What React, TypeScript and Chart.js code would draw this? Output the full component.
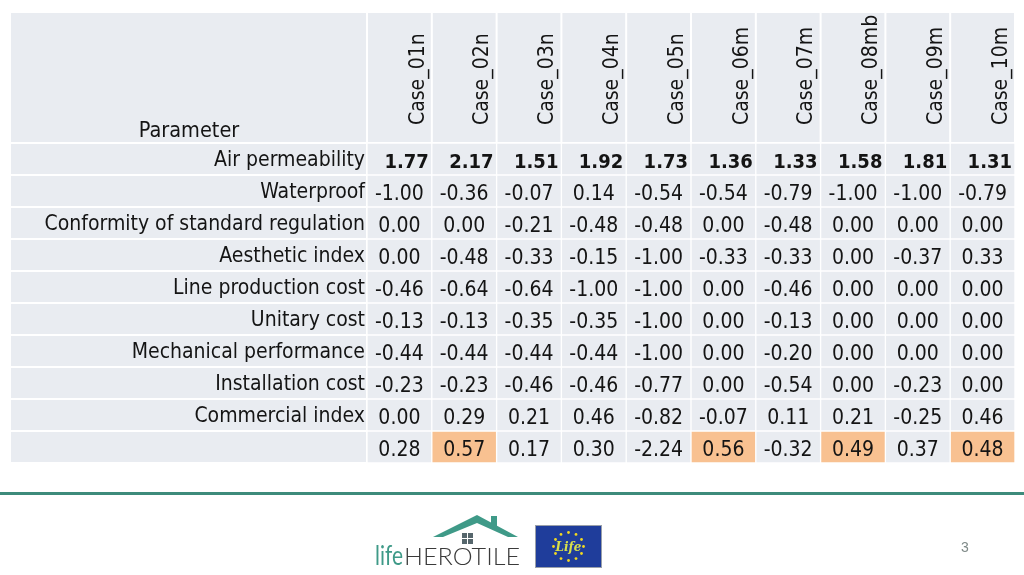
import React, { useEffect, useRef } from "react";
import { Chart, registerables } from "chart.js";

Chart.register(...registerables);

const cases = ["Case_01n", "Case_02n", "Case_03n", "Case_04n", "Case_05n", "Case_06m", "Case_07m", "Case_08mb", "Case_09m", "Case_10m"];
const rowLabels = [
  "Air permeability",
  "Waterproof",
  "Conformity of standard regulation",
  "Aesthetic index",
  "Line production cost",
  "Unitary cost",
  "Mechanical performance",
  "Installation cost",
  "Commercial index",
  "",
];
const airPermeability = [1.77, 2.17, 1.51, 1.92, 1.73, 1.36, 1.33, 1.58, 1.81, 1.31];
const waterproof = [-1.0, -0.36, -0.07, 0.14, -0.54, -0.54, -0.79, -1.0, -1.0, -0.79];
const conformity = [0.0, 0.0, -0.21, -0.48, -0.48, 0.0, -0.48, 0.0, 0.0, 0.0];
const aesthetic = [0.0, -0.48, -0.33, -0.15, -1.0, -0.33, -0.33, 0.0, -0.37, 0.33];
const lineProduction = [-0.46, -0.64, -0.64, -1.0, -1.0, 0.0, -0.46, 0.0, 0.0, 0.0];
const unitaryCost = [-0.13, -0.13, -0.35, -0.35, -1.0, 0.0, -0.13, 0.0, 0.0, 0.0];
const mechanical = [-0.44, -0.44, -0.44, -0.44, -1.0, 0.0, -0.2, 0.0, 0.0, 0.0];
const installation = [-0.23, -0.23, -0.46, -0.46, -0.77, 0.0, -0.54, 0.0, -0.23, 0.0];
const commercial = [0.0, 0.29, 0.21, 0.46, -0.82, -0.07, 0.11, 0.21, -0.25, 0.46];
const totalScore = [0.28, 0.57, 0.17, 0.3, -2.24, 0.56, -0.32, 0.49, 0.37, 0.48];
const highlighted = [false, true, false, false, false, true, false, true, false, true];

const rows = [airPermeability, waterproof, conformity, aesthetic, lineProduction, unitaryCost, mechanical, installation, commercial, totalScore];

const FONT = '"DejaVu Sans Condensed", "DejaVu Sans", sans-serif';
const CELL = "#e9ecf1";
const ORANGE = "#f8c191";
const TEXT = "#141414";
const TEAL = "#3d8b7b";

const tablePlugin = {
  id: "tableFrame",
  beforeDraw(chart: any) {
    const ctx = chart.ctx;
    const xs = chart.scales.x;
    const ys = chart.scales.y;
    const ca = chart.chartArea;
    const left = ys.left;
    const top = xs.top;
    ctx.save();
    ctx.fillStyle = "#fff";
    ctx.fillRect(0, 0, chart.width, chart.height);
    ctx.fillStyle = CELL;
    ctx.fillRect(left, top, ca.right - left, ca.top - top);
    ctx.fillRect(left, ca.top, ca.left - left, ca.bottom - ca.top);
    ctx.fillStyle = "#fff";
    for (let i = 0; i <= cases.length; i++) {
      const x = xs.getPixelForValue(i - 0.5);
      ctx.fillRect(x - 1, top, 2, ca.top - top);
    }
    for (let i = 0; i <= rowLabels.length; i++) {
      const y = ys.getPixelForValue(i - 0.5);
      ctx.fillRect(left, y - 1, ca.left - left, 2);
    }
    ctx.fillRect(left, ca.top - 1, ca.right - left, 2);
    ctx.fillRect(ca.left - 1, top, 2, ca.bottom - top);
    ctx.fillStyle = TEXT;
    ctx.font = `21.5px ${FONT}`;
    ctx.textAlign = "center";
    ctx.textBaseline = "alphabetic";
    ctx.fillText("Parameter", (left + ca.left) / 2, ca.top - 6);
    ctx.restore();
  },
  afterDatasetsDraw(chart: any) {
    const ctx = chart.ctx;
    ctx.save();
    ctx.fillStyle = TEXT;
    ctx.textBaseline = "alphabetic";
    rows.forEach((vals, r) => {
      const meta = chart.getDatasetMeta(r);
      meta.data.forEach((el: any, i: number) => {
        const cy = (el.y + el.base) / 2;
        const txt = vals[i].toFixed(2);
        if (r === 0) {
          ctx.font = `bold 20px ${FONT}`;
          ctx.textAlign = "right";
          ctx.fillText(txt, el.x + el.width / 2 - 3, cy + 9);
        } else {
          ctx.font = `21px ${FONT}`;
          ctx.textAlign = "center";
          ctx.fillText(txt, el.x, cy + 9);
        }
      });
    });
    ctx.restore();
  },
  afterDraw(chart: any) {
    const ctx = chart.ctx;
    ctx.save();
    // footer rule
    ctx.fillStyle = TEAL;
    ctx.fillRect(0, 492, chart.width, 3);
    // house roof
    ctx.fillStyle = "#3f9a88";
    ctx.beginPath();
    ctx.moveTo(433, 537);
    ctx.lineTo(477, 515);
    ctx.lineTo(518, 537);
    ctx.lineTo(508, 537);
    ctx.lineTo(477, 523);
    ctx.lineTo(443, 537);
    ctx.closePath();
    ctx.fill();
    ctx.fillRect(491, 516, 6, 10);
    // window
    ctx.fillStyle = "#56666c";
    ctx.fillRect(462, 533, 5, 5);
    ctx.fillRect(468, 533, 5, 5);
    ctx.fillRect(462, 539, 5, 5);
    ctx.fillRect(468, 539, 5, 5);
    // logo text
    ctx.textBaseline = "alphabetic";
    ctx.textAlign = "left";
    ctx.font = `26px Lato`;
    const lw = ctx.measureText("life").width;
    ctx.save();
    ctx.translate(375, 565);
    ctx.scale(28 / lw, 1);
    ctx.fillStyle = "#3f9a88";
    ctx.fillText("life", 0, 0);
    ctx.restore();
    ctx.font = `300 24px Lato`;
    const hw = ctx.measureText("HEROTILE").width;
    ctx.save();
    ctx.translate(404, 565);
    ctx.scale(116 / hw, 1);
    ctx.fillStyle = "#3a3a3a";
    ctx.fillText("HEROTILE", 0, 0);
    ctx.restore();
    // EU flag
    ctx.fillStyle = "#1f3d9b";
    ctx.fillRect(535, 525, 67, 43);
    ctx.strokeStyle = "#9aa0aa";
    ctx.lineWidth = 1;
    ctx.strokeRect(535.5, 525.5, 66, 42);
    ctx.fillStyle = "#f2d820";
    for (let k = 0; k < 12; k++) {
      const a = (k / 12) * Math.PI * 2;
      const sx = 568.5 + Math.cos(a) * 15;
      const sy = 546.5 + Math.sin(a) * 14;
      ctx.beginPath();
      ctx.arc(sx, sy, 1.4, 0, Math.PI * 2);
      ctx.fill();
    }
    ctx.fillStyle = "#d8e04a";
    ctx.font = `italic bold 12px "DejaVu Serif", serif`;
    ctx.textAlign = "center";
    ctx.fillText("Life", 568.5, 551);
    // page number
    ctx.fillStyle = "#7f8a88";
    ctx.font = `14px "Liberation Sans", sans-serif`;
    ctx.textAlign = "center";
    ctx.fillText("3", 965, 552);
    ctx.restore();
  },
};

export default function App() {
  const ref = useRef<HTMLCanvasElement | null>(null);
  useEffect(() => {
    const canvas = ref.current;
    if (!canvas) return;
    const datasets = rows.map((vals, r) => ({
      label: rowLabels[r] || "Score",
      data: vals.map(() => [r, r + 1]),
      yAxisID: "yBar",
      backgroundColor: vals.map((_, i) => (r === rows.length - 1 && highlighted[i] ? ORANGE : CELL)),
      borderColor: "#ffffff",
      borderWidth: 1,
      borderSkipped: false,
      barPercentage: 1,
      categoryPercentage: 1,
      grouped: false,
    }));
    const chart = new Chart(canvas, {
      type: "bar",
      data: { labels: cases, datasets: datasets as any },
      options: {
        responsive: false,
        animation: false,
        devicePixelRatio: 1,
        layout: { padding: { left: 11, top: 13, right: 9, bottom: 112 } },
        plugins: { legend: { display: false }, tooltip: { enabled: false } },
        scales: {
          x: {
            type: "category",
            position: "top",
            offset: true,
            grid: { display: false },
            border: { display: false },
            ticks: {
              autoSkip: false,
              minRotation: 90,
              maxRotation: 90,
              padding: 10,
              labelOffset: 44,
              color: TEXT,
              font: { family: FONT, size: 21 },
            },
            afterFit: (s: any) => {
              s.height = 130;
            },
          },
          y: {
            type: "category",
            labels: rowLabels,
            position: "left",
            offset: true,
            grid: { display: false, drawTicks: false },
            border: { display: false },
            ticks: {
              autoSkip: false,
              padding: 2,
              labelOffset: 2,
              color: TEXT,
              font: { family: FONT, size: 21 },
            },
            afterFit: (s: any) => {
              s.width = 356;
            },
          },
          yBar: {
            type: "linear",
            display: false,
            min: 0,
            max: 10,
            reverse: true,
          },
        },
      } as any,
      plugins: [tablePlugin],
    });
    return () => chart.destroy();
  }, []);
  return (
    <div style={{ position: "fixed", left: 0, top: 0, width: 1024, height: 575, background: "#fff" }}>
      <canvas ref={ref} width={1024} height={575} style={{ display: "block", width: 1024, height: 575 }} />
    </div>
  );
}
